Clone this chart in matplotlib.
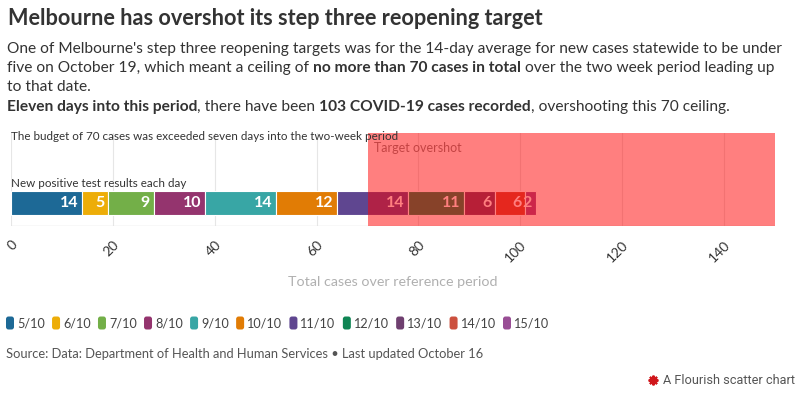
import matplotlib
matplotlib.use("Agg")
import matplotlib.pyplot as plt
from matplotlib.transforms import IdentityTransform
from matplotlib.patches import FancyBboxPatch
import numpy as np

plt.rcParams['font.family'] = ['Lato', 'DejaVu Sans']

# ---- data ----
dates = ["5/10", "6/10", "7/10", "8/10", "9/10", "10/10", "11/10", "12/10", "13/10", "14/10", "15/10"]
cases = [14, 5, 9, 10, 14, 12, 14, 11, 6, 6, 2]
colors = ["#1D6996", "#EDAD08", "#73AF48", "#94346E", "#38A6A5", "#E17C05",
          "#5F4690", "#0F8554", "#6F4070", "#CC503E", "#994E95"]
target = 70
xmax = 150
xticks = [0, 20, 40, 60, 80, 100, 120, 140]

W, H = 800, 394
fig = plt.figure(figsize=(W / 100, H / 100), dpi=100)
fig.patch.set_facecolor("white")
renderer = fig.canvas.get_renderer()
ID = IdentityTransform()

def py(y):
    return H - y

def ptext(x, y, s, **kw):
    return fig.text(x, py(y), s, transform=ID, **kw)

def width_of(t):
    return t.get_window_extent(renderer).width

def fit_size(s, target_w, size0, **kw):
    t = ptext(0, 0, s, fontsize=size0, **kw)
    w = width_of(t)
    t.remove()
    return size0 * target_w / w

def rich_line(x, y, parts, size, color):
    for s, wt in parts:
        t = ptext(x, y, s, fontsize=size, fontweight=wt, color=color, va="baseline")
        x += width_of(t)

# ---- title ----
title = "Melbourne has overshot its step three reopening target"
ts = fit_size(title, 535, 14, fontweight="bold")
ptext(8, 25, title, fontsize=ts, fontweight="bold", color="#333333", va="baseline")

# ---- subtitle ----
l1 = "One of Melbourne's step three reopening targets was for the 14-day average for new cases statewide to be under"
ss = fit_size(l1, 775, 11)
sub_col = "#333333"
rich_line(7, 53, [(l1, "normal")], ss, sub_col)
rich_line(7, 72, [("five on October 19, which meant a ceiling of ", "normal"),
                  ("no more than 70 cases in total", "bold"),
                  (" over the two week period leading up", "normal")], ss, sub_col)
rich_line(7, 91, [("to that date.", "normal")], ss, sub_col)
rich_line(7, 111, [("Eleven days into this period", "bold"),
                   (", there have been ", "normal"),
                   ("103 COVID-19 cases recorded", "bold"),
                   (", overshooting this 70 ceiling.", "normal")], ss, sub_col)

# ---- chart ----
left_px, right_px, top_px, bot_px = 11, 775, 133, 226
ax = fig.add_axes([left_px / W, (H - bot_px) / H, (right_px - left_px) / W, (bot_px - top_px) / H])
ax.set_xlim(0, xmax)
ax.set_ylim(0, 1)
for s in ax.spines.values():
    s.set_visible(False)
ax.set_yticks([])
ax.set_xticks(xticks)
ax.set_xticklabels([str(v) for v in xticks], rotation=45, ha="right", rotation_mode="anchor",
                   fontsize=10, color="#333333")
ax.tick_params(axis="x", length=0, pad=9)
ax.grid(axis="x", color="#e6e6e6", linewidth=0.8)
ax.set_axisbelow(True)
ax.axhline(0, color="#e0e0e0", linewidth=1, zorder=1)

yc, bh = 0.245, 0.26
lefts = np.concatenate([[0], np.cumsum(cases)[:-1]])
ax.barh(yc, cases, left=lefts, height=bh, color=colors, edgecolor="white", linewidth=0.8, zorder=2)
for l, v in zip(lefts, cases):
    ax.text(l + v - 0.7, yc, str(v), ha="right", va="center", fontsize=11.5, fontweight="bold",
            color="white", zorder=3)

ax.text(71.2, 0.84, "Target overshot", fontsize=9.0, color="#888888", va="center", ha="left", zorder=3)
ax.axvspan(target, xmax, ymin=0, ymax=1, color="#ff0000", alpha=0.5, linewidth=0, zorder=5)

ax.text(0, 0.96, "The budget of 70 cases was exceeded seven days into the two-week period",
        fontsize=8.35, color="#333333", va="center", ha="left", zorder=6)
ax.text(0, 0.455, "New positive test results each day",
        fontsize=8.35, color="#333333", va="center", ha="left", zorder=6)

ptext((left_px + right_px) / 2, 282, "Total cases over reference period", fontsize=10.3,
      color="#b0b0b0", ha="center", va="center")

# ---- legend ----
ly = 323
x = 6
lsize = 9.1
for d, c in zip(dates, colors):
    p = FancyBboxPatch((x, py(ly) - 6.5), 8, 13, boxstyle="round,pad=0,rounding_size=2.5",
                       transform=ID, facecolor=c, edgecolor="none")
    fig.patches.append(p)
    t = ptext(x + 11, ly, d, fontsize=lsize, color="#444444", va="center")
    x += 11 + width_of(t) + 7.3

# ---- source ----
ptext(6, 354, "Source: Data: Department of Health and Human Services \u2022 Last updated October 16",
      fontsize=9.25, color="#555555", va="center")

# ---- flourish credit ----
ptext(795, 380, "A Flourish scatter chart", fontsize=9.2, color="#555555", va="center", ha="right",
      family=["Roboto", "DejaVu Sans"])
fig.add_artist(plt.Line2D([653], [py(380)], transform=ID, marker=(8, 2, 0), markersize=7,
                          color="#d0161b", markeredgewidth=1.5, linestyle="none"))
fig.add_artist(plt.Line2D([653], [py(380)], transform=ID, marker="o", markersize=4,
                          color="#d0161b", linestyle="none"))

fig.savefig("out.png", dpi=100, facecolor="white")
